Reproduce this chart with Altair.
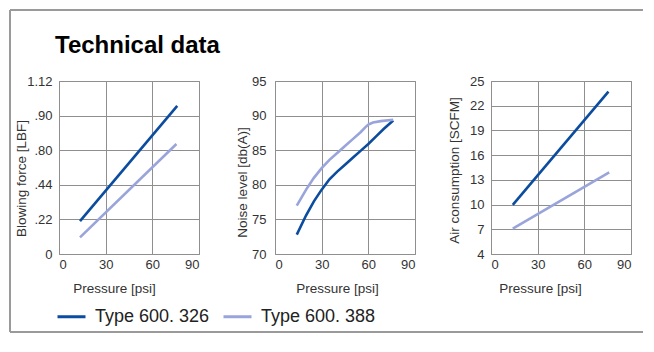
import altair as alt
import pandas as pd

# ---------------- data ----------------
series_names = ["Type 600. 326", "Type 600. 388"]
series_colors = ["#0b4c9f", "#99a4db"]

pressure_ticks = [0, 30, 60, 90]

# Blowing force: the printed axis is a ladder of labels at equal steps
force_tick_labels = ["0", ".22", ".44", ".80", ".90", "1.12"]
force_psi_326 = [13.5, 76]
force_pos_326 = [0.95, 4.28]       # position on the label ladder (0..5)
force_psi_388 = [13.5, 75.5]
force_pos_388 = [0.48, 3.18]

# Noise level [db(A)]
noise_ticks = [70, 75, 80, 85, 90, 95]
noise_psi_326 = [14, 20, 25, 30, 35, 40, 45, 50, 55, 60, 65, 70, 76]
noise_326 = [72.8, 75.6, 77.6, 79.3, 80.8, 81.9, 82.9, 83.9, 84.9, 85.9, 87.0, 88.1, 89.3]
noise_psi_388 = [14, 20, 25, 30, 35, 40, 45, 50, 55, 58, 60, 63, 68, 76]
noise_388 = [77.0, 79.3, 81.0, 82.4, 83.6, 84.6, 85.6, 86.6, 87.6, 88.3, 88.7, 89.0, 89.2, 89.4]

# Air consumption [SCFM]
air_ticks = [4, 7, 10, 13, 16, 19, 22, 25]
air_psi_326 = [14, 75.5]
air_326 = [9.97, 23.7]
air_psi_388 = [14, 76]
air_388 = [7.07, 13.9]


def long_df(psi_a, val_a, psi_b, val_b):
    return pd.DataFrame({
        "psi": list(psi_a) + list(psi_b),
        "value": list(val_a) + list(val_b),
        "series": [series_names[0]] * len(psi_a) + [series_names[1]] * len(psi_b),
    })


force_df = long_df(force_psi_326, force_pos_326, force_psi_388, force_pos_388)
noise_df = long_df(noise_psi_326, noise_326, noise_psi_388, noise_388)
air_df = long_df(air_psi_326, air_326, air_psi_388, air_388)

FONT = "Liberation Sans"
W, H = 140, 173

color = alt.Color(
    "series:N",
    scale=alt.Scale(domain=series_names, range=series_colors),
    legend=alt.Legend(
        title=None, orient="none", legendX=-3, legendY=220, direction="horizontal",
        symbolType="stroke", symbolSize=784, symbolStrokeWidth=3,
        labelFontSize=18, labelFont=FONT, labelColor="#222", labelOffset=8,
        columnPadding=7, padding=0,
    ),
)


def x_enc(title_x):
    return alt.X(
        "psi:Q",
        scale=alt.Scale(domain=[0, 90], nice=False, zero=False),
        axis=alt.Axis(
            values=pressure_ticks, title="Pressure [psi]", titleX=title_x, titleY=34,
            titleBaseline="middle", labelPadding=4,
        ),
    )


def lines(df, x, y):
    return alt.Chart(df).mark_line(strokeWidth=2.6, strokeCap="butt").encode(
        x=x, y=y, color=color, detail="series:N"
    )


force_expr = "[" + ",".join("'" + s + "'" for s in force_tick_labels) + "][datum.value]"
y_force = alt.Y(
    "value:Q",
    scale=alt.Scale(domain=[0, len(force_tick_labels) - 1], nice=False, zero=False),
    axis=alt.Axis(
        values=list(range(len(force_tick_labels))), labelExpr=force_expr,
        title="Blowing force [LBF]", titleX=-38, titleY=97, titleBaseline="middle",
        labelPadding=7,
    ),
)
y_noise = alt.Y(
    "value:Q",
    scale=alt.Scale(domain=[noise_ticks[0], noise_ticks[-1]], nice=False, zero=False),
    axis=alt.Axis(
        values=noise_ticks, title="Noise level [db(A)]", titleX=-33, titleY=101,
        titleBaseline="middle", labelPadding=9,
    ),
)
y_air = alt.Y(
    "value:Q",
    scale=alt.Scale(domain=[air_ticks[0], air_ticks[-1]], nice=False, zero=False),
    axis=alt.Axis(
        values=air_ticks, title="Air consumption [SCFM]", titleX=-37, titleY=89,
        titleBaseline="middle", labelPadding=7,
    ),
)

# decorations: page frame and heading (placed relative to the first panel)
one = pd.DataFrame({"k": [0]})
frame_color = "#9a9a9a"
FR_L, FR_T, FR_R, FR_B = -49, -71, 584, 251
top_rule = alt.Chart(one).mark_rule(color=frame_color, strokeWidth=2).encode(
    x=alt.value(FR_L), x2=alt.value(FR_R), y=alt.value(FR_T)
)
left_rule = alt.Chart(one).mark_rule(color=frame_color, strokeWidth=2).encode(
    x=alt.value(FR_L), y=alt.value(FR_T), y2=alt.value(FR_B)
)
bottom_rule = alt.Chart(one).mark_rule(color=frame_color, strokeWidth=2).encode(
    x=alt.value(FR_L), x2=alt.value(FR_R), y=alt.value(FR_B)
)
heading = alt.Chart(one).mark_text(
    text="Technical data", font=FONT, fontSize=24, fontWeight="bold", color="#000",
    align="left", baseline="alphabetic",
).encode(x=alt.value(-4), y=alt.value(-28))

p1 = alt.layer(
    top_rule, left_rule, bottom_rule, heading,
    lines(force_df, x_enc(55), y_force),
).properties(width=W, height=H)
p2 = lines(noise_df, x_enc(62), y_noise).properties(width=W, height=H)
p3 = lines(air_df, x_enc(49), y_air).properties(width=W, height=H)

chart = alt.hconcat(p1, p2, p3, spacing=76, bounds="flush").properties(
    padding=0
).configure_view(
    stroke="#8a8a8a", strokeWidth=1
).configure_axis(
    domain=False, ticks=False, grid=True, gridColor="#8f8f8f", gridWidth=1, gridOpacity=1,
    labelFont=FONT, labelFontSize=13, labelColor="#333",
    titleFont=FONT, titleFontSize=13.5, titleColor="#333", titleFontWeight="normal",
)

chart.save("out.html", embed_options={"renderer": "svg", "actions": False})
